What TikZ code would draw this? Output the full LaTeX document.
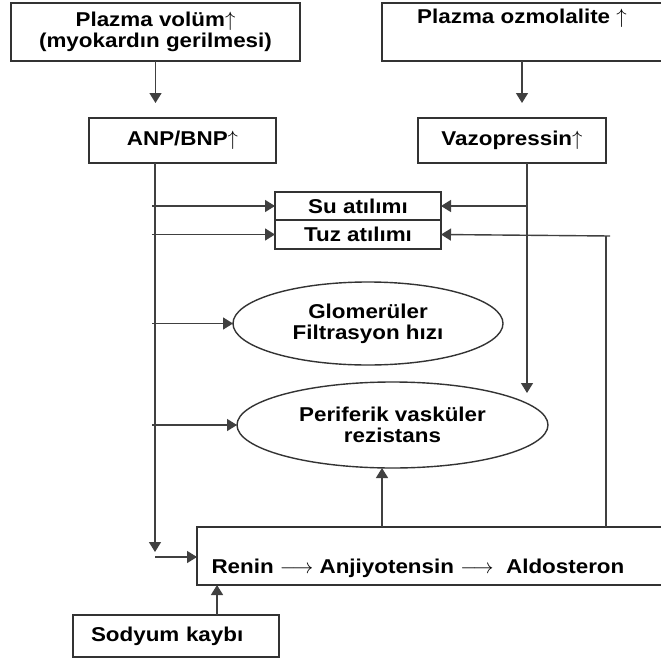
\documentclass[tikz,border=0pt]{standalone}
\usepackage{fontspec}
\setmainfont{Liberation Sans}[FakeStretch=1.12]
\usetikzlibrary{arrows.meta,positioning,shapes.geometric}
\begin{document}
\begin{tikzpicture}[x=1pt,y=-1pt,>={Triangle[length=10pt,width=12pt]},font=\fontsize{20}{21}\selectfont\bfseries,
 box/.style={draw=black!80,line width=1.4pt,inner sep=0pt,outer sep=0pt,align=center},
 oval/.style={box,ellipse},
 link/.style={->,line width=1.4pt,black!75}]
\useasboundingbox (0,0) rectangle (661,661);
\node[box,minimum width=289pt,minimum height=58pt] (vol) at (155.5,32) {Plazma volüm$\uparrow$\\(myokardın gerilmesi)};
\node[box,minimum width=280pt,minimum height=58pt] (osm) at (522,32) {};
\node[below=2pt of osm.north] (osmt) {Plazma ozmolalite $\uparrow$};
\node[box,minimum width=187pt,minimum height=45pt] (anp) at (182.5,140.5) {ANP/BNP$\uparrow$};
\node[box,minimum width=188pt,minimum height=45pt] (vaz) at (512,140.5) {Vazopressin$\uparrow$};
\node[box,minimum width=166pt,minimum height=28pt] (su) at (358,206) {Su atılımı};
\node[box,minimum width=166pt,minimum height=29pt,below=0pt of su] (tuz) {Tuz atılımı};
\node[oval,minimum width=270pt,minimum height=83pt] (gfr) at (368,323.5) {Glomerüler\\Filtrasyon hızı};
\node[oval,minimum width=311pt,minimum height=86pt] (pvr) at (392.5,425) {Periferik vasküler\\rezistans};
\node[box,minimum width=483pt,minimum height=58pt] (raa) at (438.5,556) {};
\node[anchor=west] (raat) at (208,568) {Renin $\longrightarrow$ Anjiyotensin $\longrightarrow$\ \ Aldosteron};
\node[box,minimum width=206pt,minimum height=42pt,text width=170pt,align=left] (sod) at (176,636) {Sodyum kaybı};
\coordinate (a0) at ([xshift=-27.5pt]anp.south);
\coordinate (v0) at ([xshift=15pt]vaz.south);
\coordinate (r0) at (606,236);
\coordinate (p0) at (382,0);
\coordinate (s0) at (217,0);
\coordinate (t0) at (155,557);
\draw[link] (vol.south) -- ([yshift=15pt]vol.south |- anp.north);
\draw[link] (osm.south) -- ([yshift=15pt]osm.south |- vaz.north);
\draw[link] (a0) -- (a0 |- 0,552);
\foreach \n in {su,tuz,gfr,pvr}
 \draw[link] ([xshift=-3pt]a0 |- \n.west) -- (\n.west);
\draw[link] (v0) -- (v0 |- 0,393);
\draw[link] (v0 |- su.east) -- (su.east);
\draw[line width=1.4pt,black!75] (r0 |- raa.north) -- (r0);
\draw[link] ([xshift=4pt]r0) -- (tuz.east);
\draw[link] (p0 |- raa.north) -- (p0 |- pvr.south);
\draw[link] (s0 |- sod.north) -- (s0 |- raa.south);
\draw[link] (t0) -- (raa.west |- t0);
\end{tikzpicture}
\end{document}
